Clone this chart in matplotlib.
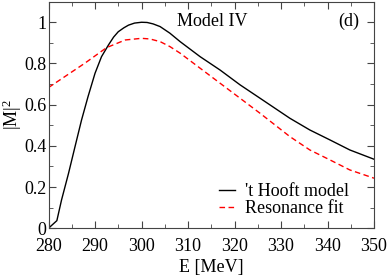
import numpy as np
import matplotlib
matplotlib.use("Agg")
import matplotlib.pyplot as plt
from matplotlib.ticker import MultipleLocator

plt.rcParams['font.family'] = ['Liberation Serif', 'DejaVu Serif']
plt.rcParams['mathtext.fontset'] = 'custom'
plt.rcParams['mathtext.rm'] = 'Liberation Serif'
plt.rcParams['mathtext.it'] = 'Liberation Serif:italic'

# 't Hooft model
e_hooft = [280, 281.8, 282.8, 284.3, 285.7, 287.1, 288.5, 290, 291.4, 292.9, 294, 295, 296.2,
           297.2, 298.5, 300, 301.2, 302.5, 304, 306.1, 308.3, 312.6, 316.9, 321.2, 325.5,
           331.9, 336.2, 340.5, 344.8, 350]
m_hooft = [0, 0.037, 0.137, 0.266, 0.396, 0.525, 0.639, 0.752, 0.833, 0.89, 0.928, 0.954, 0.973,
           0.986, 0.996, 1.0, 0.999, 0.992, 0.979, 0.947, 0.906, 0.833, 0.768, 0.696, 0.631,
           0.534, 0.477, 0.429, 0.38, 0.335]

# resonance fit
e_res = [280, 283.5, 287.8, 292.5, 296.5, 300, 301.8, 304, 306.1, 308.3, 312.6, 316.9,
         321.2, 325.5, 331.9, 336.2, 340.5, 344.8, 350]
m_res = [0.683, 0.736, 0.801, 0.877, 0.914, 0.922, 0.919, 0.906, 0.882, 0.85, 0.777, 0.704,
         0.631, 0.558, 0.445, 0.38, 0.332, 0.283, 0.243]

fig = plt.figure(figsize=(3.88, 2.77), dpi=100)
ax = fig.add_axes([0.125, 0.176, 0.839, 0.818])

ax.plot(e_hooft, m_hooft, color='black', lw=1.0, label="'t Hooft model")
ax.plot(e_res, m_res, color='red', lw=1.0, dashes=(4, 2.5), label="Resonance fit")

ax.set_xlim(280, 350)
ax.set_ylim(0, 1.1)
ax.xaxis.set_major_locator(MultipleLocator(10))
ax.xaxis.set_minor_locator(MultipleLocator(5))
ax.yaxis.set_minor_locator(MultipleLocator(0.1))
ax.set_yticks([0, 0.2, 0.4, 0.6, 0.8, 1.0])
ax.set_yticklabels(['0', '0.2', '0.4', '0.6', '0.8', '1'])
ax.tick_params(which='both', direction='in', top=True, right=True, labelsize=13, color='#444444')
ax.tick_params(which='major', length=5)
ax.tick_params(which='minor', length=3)
ax.tick_params(axis='x', which='major', pad=7)
ax.tick_params(axis='y', which='major', pad=1.5)
for sp in ax.spines.values():
    sp.set_color('#444444')

ax.set_xlabel("E [MeV]", fontsize=13, labelpad=3)
ax.set_ylabel(r"|M|$^2$", fontsize=13, labelpad=0)

ax.text(0.394, 0.893, "Model IV", transform=ax.transAxes, fontsize=13, va='baseline')
ax.text(0.889, 0.893, "(d)", transform=ax.transAxes, fontsize=13, va='baseline')

ax.legend(loc='lower right', bbox_to_anchor=(0.945, 0.017), frameon=False, fontsize=13,
          handlelength=0.9, handletextpad=0.55, labelspacing=0.0, borderaxespad=0)

plt.savefig("out.png", dpi=100)
